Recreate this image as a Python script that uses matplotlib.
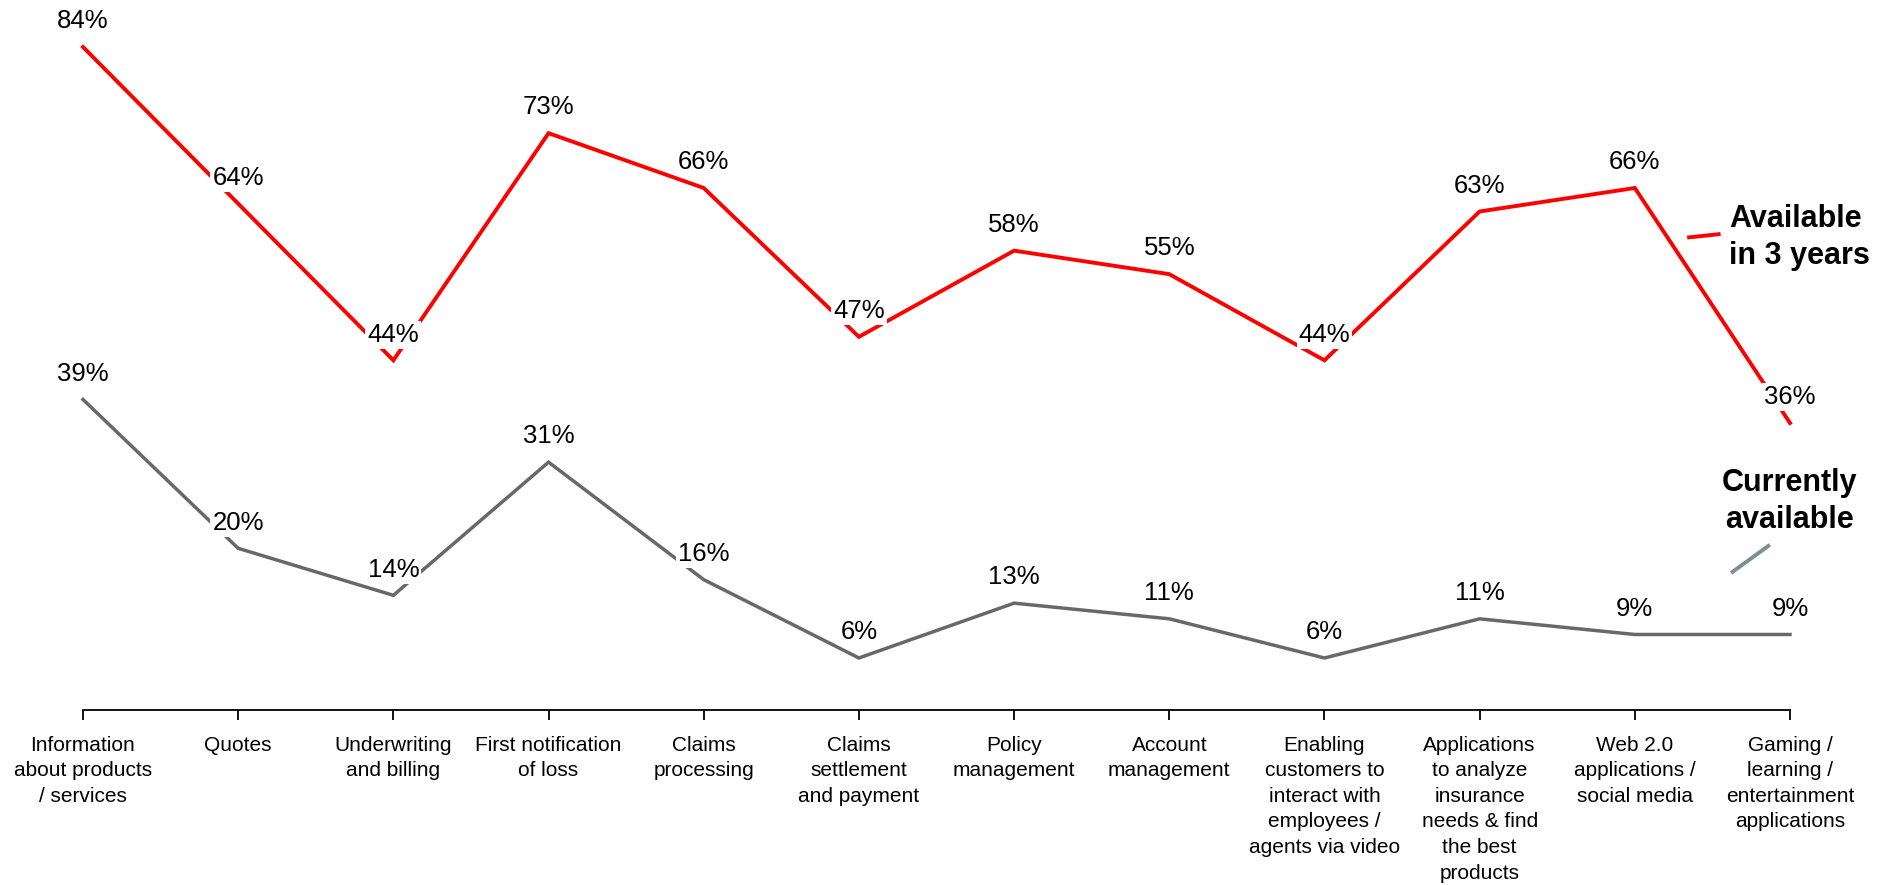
import matplotlib
matplotlib.use("Agg")
import matplotlib.pyplot as plt

plt.rcParams['font.family'] = ['Liberation Sans', 'DejaVu Sans']

categories = [
    "Information\nabout products\n/ services",
    "Quotes",
    "Underwriting\nand billing",
    "First notification\nof loss",
    "Claims\nprocessing",
    "Claims\nsettlement\nand payment",
    "Policy\nmanagement",
    "Account\nmanagement",
    "Enabling\ncustomers to\ninteract with\nemployees /\nagents via video",
    "Applications\nto analyze\ninsurance\nneeds & find\nthe best\nproducts",
    "Web 2.0\napplications /\nsocial media",
    "Gaming /\nlearning /\nentertainment\napplications",
]
available_in_3_years = [84, 64, 44, 73, 66, 47, 58, 55, 44, 63, 66, 36]
currently_available = [39, 20, 14, 31, 16, 6, 13, 11, 6, 11, 9, 9]

RED = "#ff0000"
GRAY = "#686868"
LEGEND_GRAY = "#7f8e8e"

fig = plt.figure(figsize=(18.83, 8.85), dpi=100)
ax = fig.add_axes([83 / 1883, 175 / 885, (1790 - 83) / 1883, 710 / 885])

x = list(range(len(categories)))
ax.plot(x, available_in_3_years, color=RED, lw=2.8, solid_joinstyle='miter',
        clip_on=False, zorder=2)
ax.plot(x, currently_available, color=GRAY, lw=2.5, solid_joinstyle='miter',
        clip_on=False, zorder=2)

label_box = dict(boxstyle="square,pad=0.08", fc="white", ec="none")
for series in (available_in_3_years, currently_available):
    for xi, v in zip(x, series):
        ax.annotate(f"{v}%", (xi, v), xytext=(0, 18.5), textcoords="offset points",
                    ha="center", va="center", fontsize=18.5, color="black",
                    bbox=label_box, zorder=3, annotation_clip=False)

# series names with short key strokes
ax.plot([10.35, 10.54], [59.7, 60.1], color=RED, lw=2.8, clip_on=False)
ax.text(10.61, 64.0, "Available\nin 3 years", ha="left", va="top",
        fontsize=22, fontweight="bold", linespacing=1.3, color="black")
ax.plot([10.63, 10.86], [17.0, 20.3], color=LEGEND_GRAY, lw=2.8, clip_on=False)
ax.text(11.0, 30.2, "Currently\navailable", ha="center", va="top",
        fontsize=22, fontweight="bold", linespacing=1.3, color="black",
        multialignment="center")

ax.set_xlim(0, 11)
ax.set_ylim(-0.64, 90)
ax.set_xticks(x)
ax.set_xticklabels(categories, fontsize=15, linespacing=1.44)
ax.set_yticks([])
for side in ("left", "top", "right"):
    ax.spines[side].set_visible(False)
ax.spines["bottom"].set_linewidth(1.3)
ax.tick_params(axis="x", direction="out", length=7.5, width=1.3, pad=11, colors="black")
ax.patch.set_alpha(0)

fig.savefig("out.png", dpi=100)
